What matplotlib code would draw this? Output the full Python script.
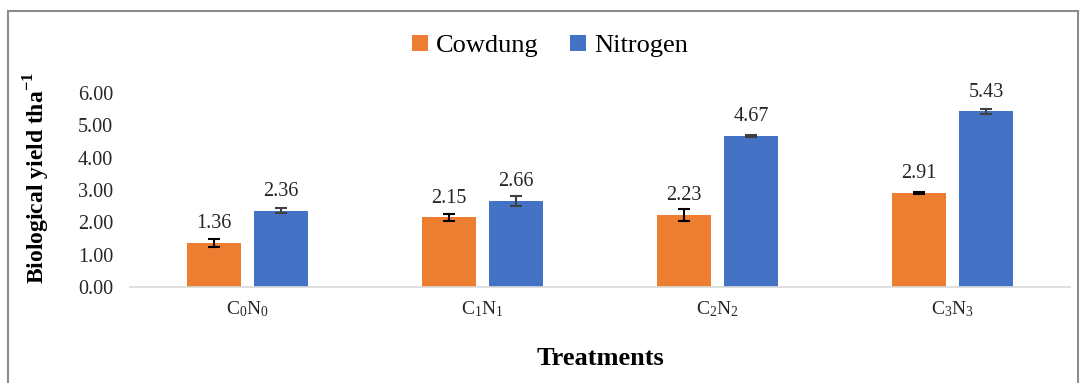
import matplotlib
matplotlib.use("Agg")
import matplotlib.pyplot as plt
from matplotlib.patches import Rectangle
import numpy as np

# data
treatments = [r"$\mathrm{C_0N_0}$", r"$\mathrm{C_1N_1}$", r"$\mathrm{C_2N_2}$", r"$\mathrm{C_3N_3}$"]
cowdung = [1.36, 2.15, 2.23, 2.91]
cowdung_err = [0.11, 0.10, 0.19, 0.02]
nitrogen = [2.36, 2.66, 4.67, 5.43]
nitrogen_err = [0.08, 0.14, 0.02, 0.09]
yticks = [0, 1, 2, 3, 4, 5, 6]

plt.rcParams["font.family"] = ["Liberation Serif", "DejaVu Serif"]
plt.rcParams["mathtext.fontset"] = "custom"
plt.rcParams["mathtext.rm"] = "Liberation Serif"
plt.rcParams["mathtext.bf"] = "Liberation Serif:bold"

W, H = 1083, 383
fig = plt.figure(figsize=(W / 100, H / 100), dpi=100)
ax = fig.add_axes([130 / W, 1 - 287 / H, 940 / W, (287 - 73.6) / H])

x = np.arange(len(treatments))
width = 0.23
off = 0.143

b1 = ax.bar(x - off, cowdung, width, color="#ED7D31", label="Cowdung",
            yerr=cowdung_err, error_kw=dict(ecolor="black", elinewidth=1.5, capsize=4, capthick=1.5))
b2 = ax.bar(x + off, nitrogen, width, color="#4472C4", label="Nitrogen",
            yerr=nitrogen_err, error_kw=dict(ecolor="#404040", elinewidth=1.5, capsize=4, capthick=1.5))

# value labels sit just above the bar top (not the error bar)
for bars, vals in ((b1, cowdung), (b2, nitrogen)):
    for rect, v in zip(bars, vals):
        ax.annotate(f"{v:.2f}", (rect.get_x() + rect.get_width() / 2, v),
                    xytext=(0, 7), textcoords="offset points",
                    ha="center", va="bottom", fontsize=14.5, color="#262626")

ax.set_xlim(-0.5, len(treatments) - 0.5)
ax.set_ylim(0, 6.6)
ax.set_yticks(yticks)
ax.set_yticklabels([f"{v:.2f}" for v in yticks], fontsize=14.5, color="#262626")
ax.set_xticks(x)
ax.set_xticklabels(treatments, fontsize=14, color="#262626")
ax.tick_params(axis="both", length=0)
ax.tick_params(axis="y", pad=12)
ax.tick_params(axis="x", pad=9)

for s in ("top", "right", "left"):
    ax.spines[s].set_visible(False)
ax.spines["bottom"].set_color("#d9d9d9")
ax.spines["bottom"].set_linewidth(1.2)

ax.set_xlabel("Treatments", fontsize=19, fontweight="bold")
ax.xaxis.set_label_coords(0.5, -(347 - 287) / (287 - 73.6))
ax.set_ylabel(r"Biological yield tha$^{\mathbf{-1}}$", fontsize=17, fontweight="bold")
ax.yaxis.set_label_coords(-(130 - 52) / 940, (287 - 178) / (287 - 73.6))

fig.legend(loc="center", bbox_to_anchor=(550 / W, 1 - 46 / H), ncol=2, frameon=False,
           fontsize=19, handlelength=0.6, handleheight=0.6, handletextpad=0.3, columnspacing=1.2)

fig.patches.append(Rectangle((8 / W, -0.1), (1078 - 8) / W, 1.1 - 11 / H,
                             transform=fig.transFigure, fill=False,
                             edgecolor="#8c8c8c", linewidth=1.5))

fig.savefig("out.png", dpi=100)
